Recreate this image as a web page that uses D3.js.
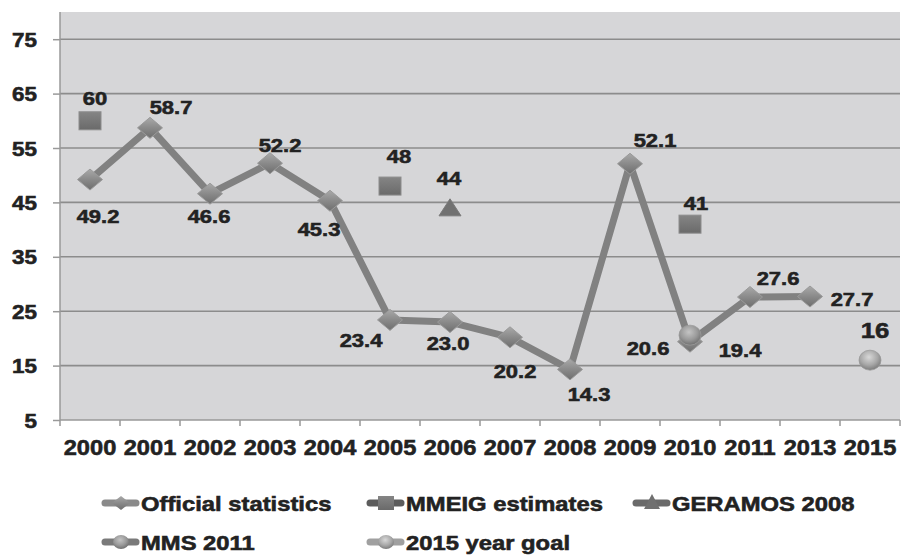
<!DOCTYPE html>
<html>
<head>
<meta charset="utf-8">
<script src="https://cdn.jsdelivr.net/npm/d3@7/dist/d3.min.js"></script>
<style>
  html, body { margin: 0; padding: 0; background: #fff; }
  svg { display: block; font-family: "Liberation Sans", Arial, sans-serif; font-weight: bold; }
  svg text { stroke: #222; stroke-width: 0.55px; paint-order: stroke; }
</style>
</head>
<body>
<svg id="chart" width="901" height="555"></svg>
<script>
// Categories along the x axis
const years = ["2000","2001","2002","2003","2004","2005","2006","2007","2008","2009","2010","2011","2013","2015"];
// Y axis tick values
const yTicks = [5, 15, 25, 35, 45, 55, 65, 75];

// Series values (null = no observation)
const officialStats = [49.2, 58.7, 46.6, 52.2, 45.3, 23.4, 23.0, 20.2, 14.3, 52.1, 19.4, 27.6, 27.7, null];
const mmeigEstimates = [60, null, null, null, null, 48, null, null, null, null, 41, null, null, null];
const geramos2008 = [null, null, null, null, null, null, 44, null, null, null, null, null, null, null];
const mms2011 = [null, null, null, null, null, null, null, null, null, null, 20.6, null, null, null];
const goal2015 = [null, null, null, null, null, null, null, null, null, null, null, null, null, 16];

// Value label formats
const fmt1 = d3.format(".1f");
const fmt0 = d3.format("d");

// Label placement relative to each marker: [dx, dy] (baseline)
const officialLabelOffsets = [[8,43],[21,-14],[-1,29],[10,-11],[-11,35],[-29,27],[-2,28],[5,41],[19,32],[25,-17],[50,15],[28,-12],[42,9],null];
const mmeigLabelOffsets = {0:[5,-16], 5:[9,-23], 10:[6,-14]};

const svg = d3.select("#chart");
const plot = {left: 60, right: 900, top: 12, bottom: 420};

const x = d3.scaleBand().domain(years).range([plot.left, plot.right]).padding(0);
const y = d3.scaleLinear().domain([5, 80]).range([plot.bottom, plot.top]);
const cx = d => x(d) + x.bandwidth() / 2;

// Gradients for the bevelled markers
const defs = svg.append("defs");
const lg = defs.append("linearGradient").attr("id", "diamondGrad").attr("x1", 0).attr("y1", 0).attr("x2", 0).attr("y2", 1);
lg.append("stop").attr("offset", "0%").attr("stop-color", "#a9a9a9");
lg.append("stop").attr("offset", "50%").attr("stop-color", "#8a8a8a");
lg.append("stop").attr("offset", "100%").attr("stop-color", "#6e6e6e");
const sg = defs.append("linearGradient").attr("id", "squareGrad").attr("x1", 0).attr("y1", 0).attr("x2", 0).attr("y2", 1);
sg.append("stop").attr("offset", "0%").attr("stop-color", "#858585");
sg.append("stop").attr("offset", "100%").attr("stop-color", "#6a6a6a");
const rg = defs.append("radialGradient").attr("id", "ballGrad").attr("cx", "45%").attr("cy", "35%").attr("r", "65%");
rg.append("stop").attr("offset", "0%").attr("stop-color", "#d8d8d8");
rg.append("stop").attr("offset", "60%").attr("stop-color", "#a8a8a8");
rg.append("stop").attr("offset", "100%").attr("stop-color", "#7c7c7c");
const rg2 = defs.append("radialGradient").attr("id", "ballGrad2").attr("cx", "45%").attr("cy", "35%").attr("r", "65%");
rg2.append("stop").attr("offset", "0%").attr("stop-color", "#c4c4c4");
rg2.append("stop").attr("offset", "60%").attr("stop-color", "#999");
rg2.append("stop").attr("offset", "100%").attr("stop-color", "#707070");

// Plot background
svg.append("rect")
  .attr("x", plot.left).attr("y", plot.top)
  .attr("width", plot.right - plot.left).attr("height", plot.bottom - plot.top)
  .attr("fill", "#d6d6d8");

// Horizontal gridlines
svg.append("g").selectAll("line").data(yTicks.slice(1)).join("line")
  .attr("x1", plot.left).attr("x2", plot.right)
  .attr("y1", d => y(d)).attr("y2", d => y(d))
  .attr("stroke", "#8c8c8c").attr("stroke-width", 1.6);

// Text helper: horizontally widened bold text
function wideText(sel, tx, ty, sx, size, anchor) {
  sel.attr("transform", (d, i) => `translate(${tx(d, i)},${ty(d, i)}) scale(${sx},1)`)
     .attr("font-size", size).attr("text-anchor", anchor || "middle").attr("fill", "#222");
  return sel;
}

// Y axis
const yAxis = svg.append("g").attr("transform", `translate(${plot.left},0)`)
  .call(d3.axisLeft(y).tickValues(yTicks).tickSize(7).tickFormat(""));
yAxis.select(".domain").attr("stroke", "#999").attr("stroke-width", 1.5).attr("d", `M0,${plot.top}V${plot.bottom}`);
yAxis.selectAll(".tick line").attr("stroke", "#999").attr("stroke-width", 1.5);
svg.append("g").selectAll("text").data(yTicks).join("text")
  .text(d => d)
  .call(wideText, () => 37, d => y(d) + 7.5, 1.15, 19.5, "end");

// X axis
const xAxis = svg.append("g").attr("transform", `translate(0,${plot.bottom})`)
  .call(d3.axisBottom(x).tickSize(0).tickFormat(""));
xAxis.select(".domain").attr("stroke", "#999").attr("stroke-width", 1.5).attr("d", `M${plot.left},0H${plot.right}`);
svg.append("g").selectAll("line").data(d3.range(years.length + 1)).join("line")
  .attr("x1", i => plot.left + i * x.step()).attr("x2", i => plot.left + i * x.step())
  .attr("y1", plot.bottom).attr("y2", plot.bottom + 6)
  .attr("stroke", "#999").attr("stroke-width", 1.5);
svg.append("g").selectAll("text").data(years).join("text")
  .text(d => d)
  .call(wideText, d => cx(d), () => 455, 1.1, 21.5, "middle");

// Marker shapes
function diamond(g, px, py) {
  g.append("path").attr("d", `M${px},${py-10.5}L${px+12.5},${py}L${px},${py+10.5}L${px-12.5},${py}Z`)
    .attr("fill", "url(#diamondGrad)").attr("stroke", "#9a9a9a").attr("stroke-width", 1);
}
function square(g, px, py) {
  g.append("rect").attr("x", px - 11).attr("y", py - 9).attr("width", 22).attr("height", 18)
    .attr("fill", "url(#squareGrad)").attr("stroke", "#8c8c8c").attr("stroke-width", 1);
}
function triangle(g, px, py) {
  g.append("path").attr("d", `M${px},${py-9}L${px+11},${py+8}L${px-11},${py+8}Z`)
    .attr("fill", "#717171").attr("stroke", "#7a7a7a").attr("stroke-width", 1);
}
function ball(g, px, py, grad) {
  g.append("ellipse").attr("cx", px).attr("cy", py).attr("rx", 11).attr("ry", 10)
    .attr("fill", `url(#${grad || "ballGrad"})`).attr("stroke", "#9a9a9a").attr("stroke-width", 0.8);
}

// Official statistics line
const officialPts = years.map((yr, i) => ({yr, v: officialStats[i], i})).filter(d => d.v != null);
svg.append("path").datum(officialPts)
  .attr("d", d3.line().x(d => cx(d.yr)).y(d => y(d.v)))
  .attr("fill", "none").attr("stroke", "#818181").attr("stroke-width", 7).attr("stroke-linejoin", "round");
const markers = svg.append("g");
officialPts.forEach(d => diamond(markers, cx(d.yr), y(d.v)));

// Other sources
years.forEach((yr, i) => {
  if (mmeigEstimates[i] != null) square(markers, cx(yr), y(mmeigEstimates[i]));
  if (geramos2008[i] != null) triangle(markers, cx(yr), y(geramos2008[i]));
  if (mms2011[i] != null) ball(markers, cx(yr), y(mms2011[i]), "ballGrad2");
  if (goal2015[i] != null) ball(markers, cx(yr), y(goal2015[i]));
});

// Value labels
const labels = [];
officialPts.forEach(d => {
  const o = officialLabelOffsets[d.i];
  labels.push({t: fmt1(d.v), x: cx(d.yr) + o[0], y: y(d.v) + o[1], size: 18, sx: 1.22});
});
years.forEach((yr, i) => {
  if (mmeigEstimates[i] != null) {
    const o = mmeigLabelOffsets[i];
    labels.push({t: fmt0(mmeigEstimates[i]), x: cx(yr) + o[0], y: y(mmeigEstimates[i]) + o[1], size: 18, sx: 1.22});
  }
  if (geramos2008[i] != null) labels.push({t: fmt0(geramos2008[i]), x: cx(yr) - 1, y: y(geramos2008[i]) - 23, size: 18, sx: 1.22});
  if (mms2011[i] != null) labels.push({t: fmt1(mms2011[i]), x: cx(yr) - 42, y: y(mms2011[i]) + 20, size: 18, sx: 1.22});
  if (goal2015[i] != null) labels.push({t: fmt0(goal2015[i]), x: cx(yr) + 5, y: y(goal2015[i]) - 22, size: 23, sx: 1.12});
});
svg.append("g").selectAll("text").data(labels).join("text")
  .text(d => d.t)
  .attr("transform", d => `translate(${d.x},${d.y}) scale(${d.sx},1)`)
  .attr("font-size", d => d.size).attr("text-anchor", "middle").attr("fill", "#222");

// Legend
const legendItems = [
  {name: "Official statistics", shape: "diamond", line: "#8a8a8a", x: 102, y: 503},
  {name: "MMEIG estimates", shape: "square", line: "#5c5c5c", x: 367, y: 503},
  {name: "GERAMOS 2008", shape: "triangle", line: "#6a6a6a", x: 633, y: 503},
  {name: "MMS 2011", shape: "ball2", line: "#7a7a7a", x: 102, y: 542},
  {name: "2015 year goal", shape: "ball", line: "#a0a0a0", x: 367, y: 542}
];
const lgG = svg.append("g");
legendItems.forEach(it => {
  lgG.append("line").attr("x1", it.x + 3).attr("x2", it.x + 34).attr("y1", it.y).attr("y2", it.y)
    .attr("stroke", it.line).attr("stroke-width", 7).attr("stroke-linecap", "round");
  const mx = it.x + 19, my = it.y;
  if (it.shape === "diamond") {
    lgG.append("path").attr("d", `M${mx},${my-7}L${mx+9},${my}L${mx},${my+7}L${mx-9},${my}Z`).attr("fill", "url(#diamondGrad)");
  } else if (it.shape === "square") {
    lgG.append("rect").attr("x", mx - 8).attr("y", my - 7).attr("width", 16).attr("height", 14).attr("fill", "url(#squareGrad)");
  } else if (it.shape === "triangle") {
    lgG.append("path").attr("d", `M${mx},${my-9}L${mx+8},${my+6}L${mx-8},${my+6}Z`).attr("fill", "#707070");
  } else {
    lgG.append("ellipse").attr("cx", mx).attr("cy", my).attr("rx", 8).attr("ry", 7)
      .attr("fill", it.shape === "ball2" ? "url(#ballGrad2)" : "url(#ballGrad)");
  }
  lgG.append("text").text(it.name)
    .attr("transform", `translate(${it.x + 39},${it.y + 7.5}) scale(1.22,1)`)
    .attr("font-size", 19.5).attr("text-anchor", "start").attr("fill", "#222");
});
</script>
</body>
</html>
